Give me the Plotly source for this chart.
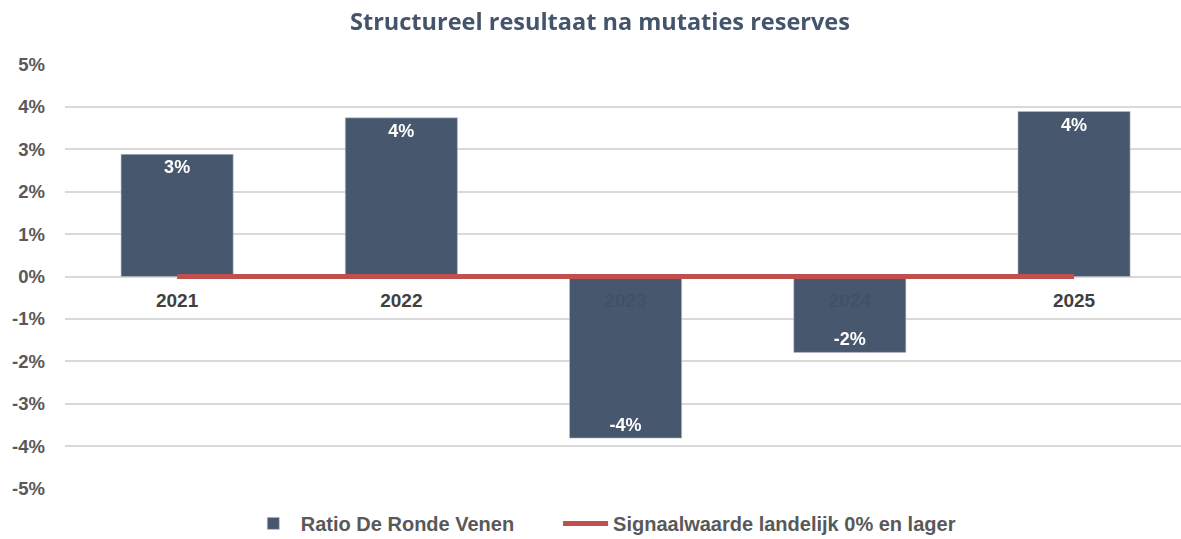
import plotly.graph_objects as go

years = ["2021", "2022", "2023", "2024", "2025"]
ratio = [2.88, 3.74, -3.81, -1.79, 3.89]
labels = ["3%", "4%", "-4%", "-2%", "4%"]
signal = [0, 0, 0, 0, 0]
yticks = [5, 4, 3, 2, 1, 0, -1, -2, -3, -4, -5]
ytick_text = [f"{v}%" for v in yticks]

NBSP = "\u00a0"

fig = go.Figure()
fig.add_trace(go.Bar(
    x=years, y=ratio, name="Ratio De Ronde Venen" + NBSP * 7,
    marker=dict(color="#42526A", line=dict(color="#B9C0CA", width=0.6)),
    opacity=0.97,
    width=0.5,
    text=labels, textposition="inside", insidetextanchor="end",
    textfont=dict(color="white", size=18, family="Liberation Sans", weight="bold"),
))
fig.add_trace(go.Scatter(
    x=years, y=signal, name="Signaalwaarde landelijk 0% en lager",
    mode="lines", line=dict(color="#C0504D", width=5),
))

fig.update_layout(
    width=1181, height=539,
    paper_bgcolor="white", plot_bgcolor="white",
    margin=dict(l=65, r=0, t=64, b=50, autoexpand=False),
    title=dict(text="<b>Structureel resultaat na mutaties reserves</b>",
               x=0.508, xanchor="center", y=0.959, yanchor="middle",
               font=dict(family="Open Sans", size=23.5, color="#44546A")),
    showlegend=True,
    legend=dict(orientation="h", x=0.162, xanchor="left", y=-0.035, yanchor="top",
                font=dict(family="Liberation Sans", size=20, color="#595959", weight="bold"),
                itemwidth=45, tracegroupgap=0),
    xaxis=dict(
        type="category", range=[-0.5, 4.477],
        anchor="free", position=0.5, layer="below traces",
        showgrid=False, showline=False, ticks="",
        tickfont=dict(family="Liberation Sans", size=19, color="#404040", weight="bold"),
        ticklabelstandoff=10,
    ),
    yaxis=dict(
        range=[-5.01, 5.01], tickvals=yticks, ticktext=ytick_text,
        showgrid=True, gridcolor="#D9D9D9", gridwidth=1.5,
        zeroline=False, showline=False, ticks="",
        tickfont=dict(family="Liberation Sans", size=18.5, color="#595959", weight="bold"),
        ticklabelstandoff=19,
    ),
)

fig.write_html("out.html", config={"displayModeBar": False},
               post_script="document.body.style.margin='0px';")
